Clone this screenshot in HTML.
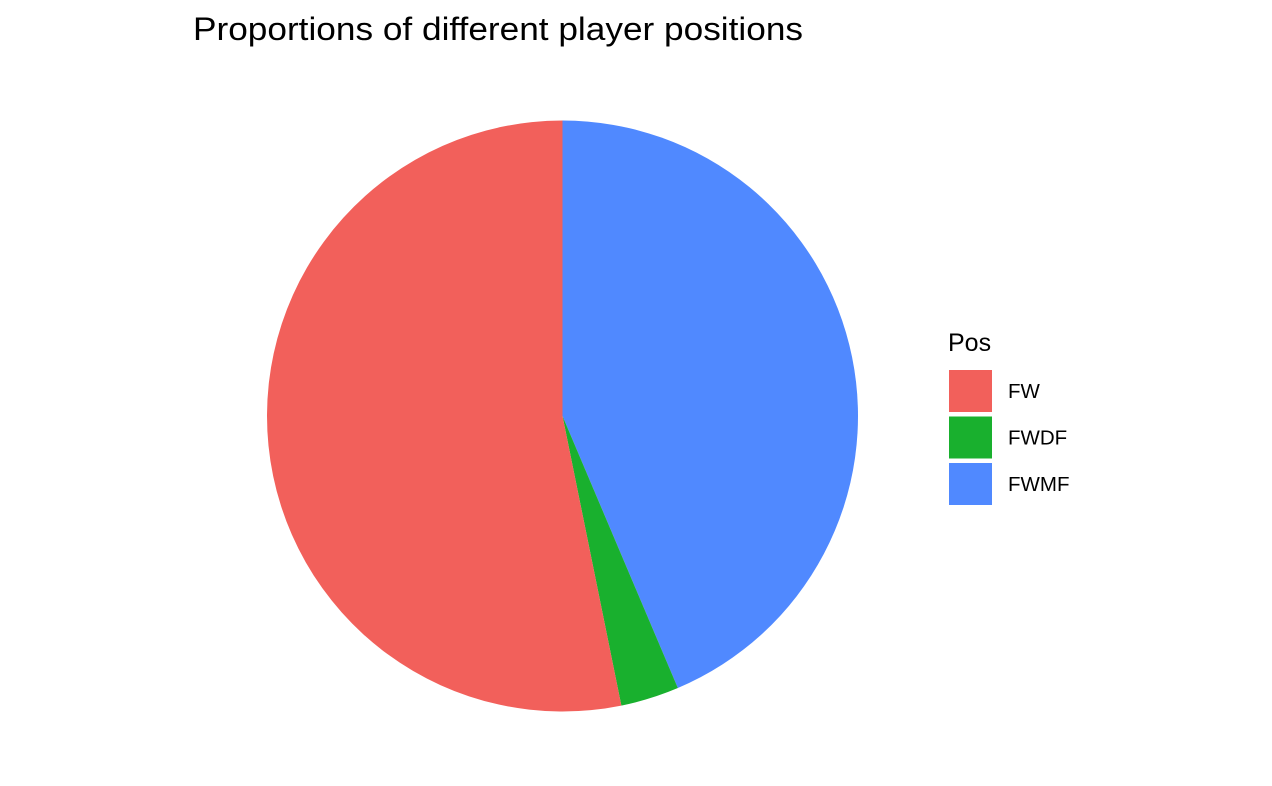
<!DOCTYPE html>
<html><head><meta charset="utf-8"><style>
body{margin:0;background:#fff;}
svg{display:block;font-family:"Liberation Sans",Arial,sans-serif;}
</style></head><body>
<svg id="chart" width="1272" height="786" viewBox="0 0 1272 786">
<text x="193" y="40" font-size="32" fill="#000" textLength="610" lengthAdjust="spacingAndGlyphs">Proportions of different player positions</text>
<g id="slices"></g>
<g>
<text x="948" y="351" font-size="25" fill="#000">Pos</text>
<g id="legend-items"></g>
</g>
</svg>
<script>
const categories = ["FW", "FWDF", "FWMF"];
const values = [50, 3, 41];
const colors = ["#F2605B", "#19B02E", "#5089FF"];
const drawOrder = [2, 1, 0];
const cx = 562.5, cy = 416, r = 295.5;
const ns = "http://www.w3.org/2000/svg";
const total = values.reduce((a, b) => a + b, 0);
const slices = document.getElementById("slices");
let acc = 0;
drawOrder.forEach(i => {
  const a0 = acc / total * 2 * Math.PI;
  acc += values[i];
  const a1 = acc / total * 2 * Math.PI;
  const x0 = cx + r * Math.sin(a0), y0 = cy - r * Math.cos(a0);
  const x1 = cx + r * Math.sin(a1), y1 = cy - r * Math.cos(a1);
  const large = (a1 - a0) > Math.PI ? 1 : 0;
  const p = document.createElementNS(ns, "path");
  p.setAttribute("d", `M${cx},${cy} L${x0},${y0} A${r},${r} 0 ${large} 1 ${x1},${y1} Z`);
  p.setAttribute("fill", colors[i]);
  
  
  slices.appendChild(p);
});
const leg = document.getElementById("legend-items");
categories.forEach((c, i) => {
  const y = 370 + i * 46.5;
  const rect = document.createElementNS(ns, "rect");
  rect.setAttribute("x", 949); rect.setAttribute("y", y);
  rect.setAttribute("width", 43); rect.setAttribute("height", 42);
  rect.setAttribute("fill", colors[i]);
  
  
  leg.appendChild(rect);
  const t = document.createElementNS(ns, "text");
  t.setAttribute("x", 1008); t.setAttribute("y", y + 28);
  t.setAttribute("font-size", "20.5"); t.setAttribute("fill", "#000");
  t.textContent = c;
  
  
  leg.appendChild(t);
});
</script>
</body></html>
